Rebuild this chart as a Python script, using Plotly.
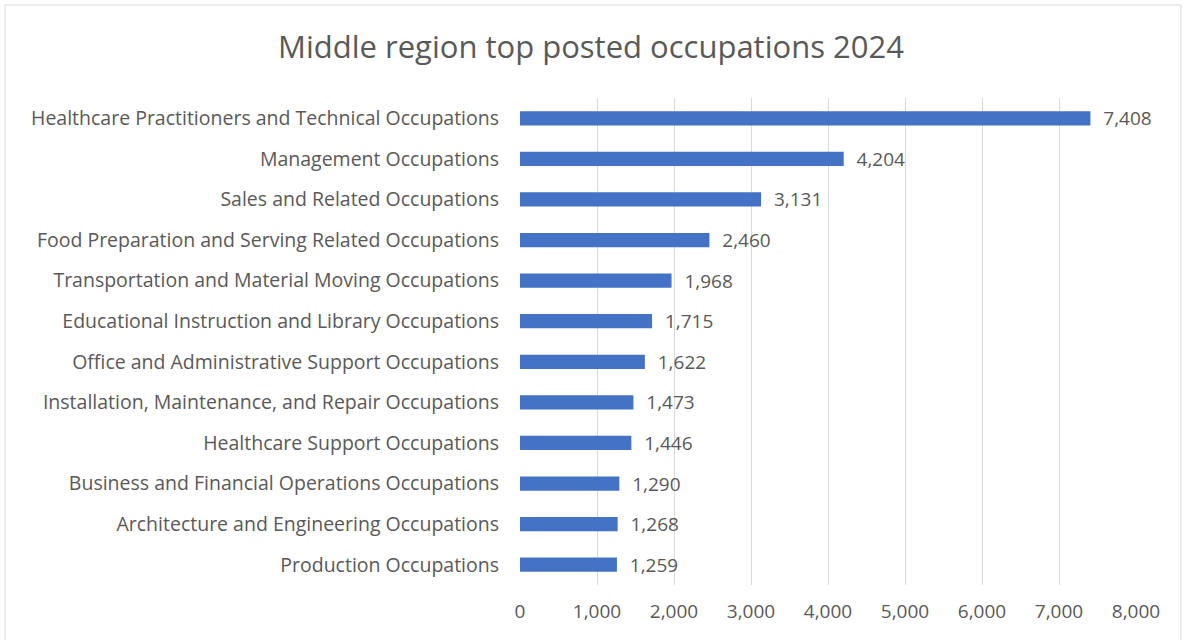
import plotly.graph_objects as go

# Occupations listed top to bottom as shown in the chart
occupations = [
    "Healthcare Practitioners and Technical Occupations",
    "Management Occupations",
    "Sales and Related Occupations",
    "Food Preparation and Serving Related Occupations",
    "Transportation and Material Moving Occupations",
    "Educational Instruction and Library Occupations",
    "Office and Administrative Support Occupations",
    "Installation, Maintenance, and Repair Occupations",
    "Healthcare Support Occupations",
    "Business and Financial Operations Occupations",
    "Architecture and Engineering Occupations",
    "Production Occupations",
]
postings = [7408, 4204, 3131, 2460, 1968, 1715, 1622, 1473, 1446, 1290, 1268, 1259]

x_ticks = [0, 1000, 2000, 3000, 4000, 5000, 6000, 7000, 8000]

text_color = "#595959"
font_family = "Open Sans"

fig = go.Figure(
    go.Bar(
        x=postings,
        y=occupations,
        orientation="h",
        marker=dict(color="#4472C4", line=dict(width=0)),
        text=[f"{v:,}" for v in postings],
        texttemplate="  %{text}",
        textposition="outside",
        constraintext="none",
        textfont=dict(size=19, color=text_color, family=font_family),
        cliponaxis=False,
    )
)

fig.update_layout(
    width=1182,
    height=640,
    plot_bgcolor="white",
    paper_bgcolor="white",
    title=dict(
        text="Middle region top posted occupations 2024",
        x=0.5,
        xanchor="center",
        y=0.927,
        yanchor="middle",
        font=dict(size=31, color=text_color, family=font_family),
    ),
    font=dict(family=font_family, color=text_color),
    bargap=0.65,
    showlegend=False,
    margin=dict(l=520, r=46, t=98, b=55),
    # Light grey border around the chart area
    shapes=[
        dict(
            type="rect",
            xref="paper",
            yref="paper",
            x0=-0.836,
            x1=1.073,
            y0=-0.2,
            y1=1.191,
            line=dict(color="#D9D9D9", width=1),
            fillcolor="rgba(0,0,0,0)",
            layer="below",
        )
    ],
)

fig.update_xaxes(
    range=[0, 8000],
    tickvals=x_ticks,
    tickformat=",",
    showgrid=True,
    gridcolor="#D9D9D9",
    gridwidth=1,
    zeroline=False,
    showline=False,
    automargin=False,
    tickfont=dict(size=19, color=text_color),
    ticklabelstandoff=13,
)

fig.update_yaxes(
    autorange="reversed",
    showgrid=False,
    showline=False,
    ticks="",
    automargin=False,
    tickfont=dict(size=19.5, color=text_color),
    ticklabelstandoff=20,
)

# drop the default page margin so the figure sits at the window's corner
fig.write_html(
    "out.html",
    config={"displayModeBar": False},
    post_script="document.body.style.margin='0';",
)
